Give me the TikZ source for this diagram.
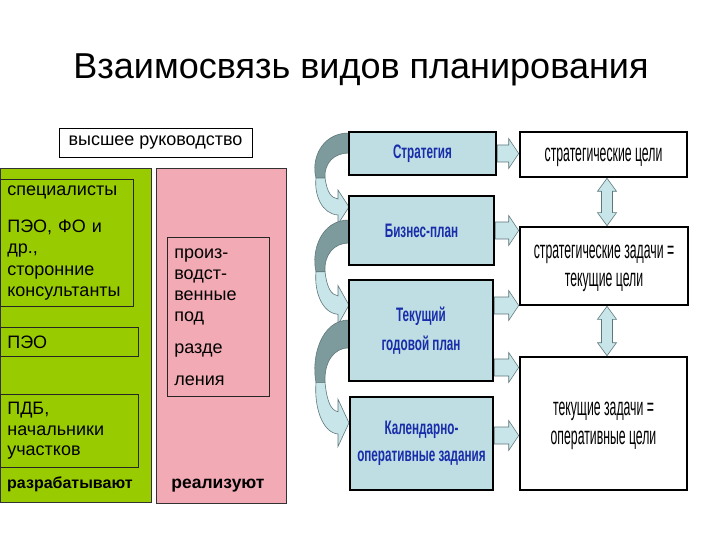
\documentclass[tikz,border=0pt]{standalone}
\usepackage{fontspec}
\setmainfont{Liberation Sans}
\newfontfamily\nbf[FakeStretch=0.6]{Liberation Sans Bold}
\newfontfamily\nrm[FakeStretch=0.49]{Liberation Sans}
\usetikzlibrary{calc}
\definecolor{grn}{RGB}{153,204,0}
\definecolor{pnk}{RGB}{242,170,180}
\definecolor{lblue}{RGB}{190,222,228}
\definecolor{afill}{RGB}{200,229,234}
\definecolor{aline}{RGB}{95,120,122}
\definecolor{adark}{RGB}{125,155,156}
\definecolor{tblue}{RGB}{25,45,170}
\tikzset{
  every node/.style={inner sep=0pt},
  panel/.style={draw=black!80, line width=0.8pt, rectangle, anchor=north west},
  ibox/.style={draw=black!85, line width=0.7pt, rectangle, anchor=north west, align=left,
    inner xsep=7pt, font=\fontsize{18}{21.5}\selectfont},
  bbox/.style={draw=black, line width=2.6pt, fill=lblue, rectangle,
    font=\nbf\fontsize{19.5}{29}\selectfont, text=tblue, align=center},
  wbox/.style={draw=black, line width=2.6pt, fill=white, rectangle, text depth=0pt,
    font=\nrm\fontsize{25}{28.5}\selectfont, align=center},
  blockarr/.style={fill=afill, draw=aline, line width=0.6pt, line join=miter},
  curvdark/.style={fill=adark, draw=aline, line width=0.6pt},
  curvlight/.style={fill=afill, draw=aline, line width=0.6pt}
}
\newcommand\harr[2]{%
  \draw[blockarr] let \p1=#1, \p2=#2 in
    (\x1,\y1+8.5pt) -- (\x2-10pt,\y1+8.5pt) -- (\x2-10pt,\y1+15pt) -- (\x2,\y1)
    -- (\x2-10pt,\y1-15pt) -- (\x2-10pt,\y1-8.5pt) -- (\x1,\y1-8.5pt) -- cycle;}
\newcommand\varr[2]{%
  \draw[blockarr] let \p1=#1, \p2=#2 in
    (\x1,\y1) -- (\x1+9.5pt,\y1-13pt) -- (\x1+5.5pt,\y1-13pt) -- (\x1+5.5pt,\y2+13pt)
    -- (\x1+9.5pt,\y2+13pt) -- (\x1,\y2) -- (\x1-9.5pt,\y2+13pt) -- (\x1-5.5pt,\y2+13pt)
    -- (\x1-5.5pt,\y1-13pt) -- (\x1-9.5pt,\y1-13pt) -- cycle;}
\newcommand\curvarr{%
  \draw[curvdark] (0,0) .. controls (-28,0) and (-38,27) .. (-33,45) -- (-24,45)
    .. controls (-25,30) and (-15,20) .. (0,20) -- cycle;
  \draw[curvlight] (-24,45) .. controls (-22,59) and (-18,65) .. (-11,66) -- (-11,57)
    -- (0,74) -- (-11,91) -- (-11,82) .. controls (-27,81) and (-35,62) .. (-33,45) -- cycle;}
\begin{document}
\begin{tikzpicture}[x=1pt,y=-1pt]
\fill[white] (0,0) rectangle (720,540);
\useasboundingbox (0,0) rectangle (720,540);

\node[font=\fontsize{36}{40}\selectfont] (title) at (361,70) {Взаимосвязь видов планирования};

% left part
\node[draw=black, line width=0.7pt, fill=white, minimum width=193pt, minimum height=29pt,
  font=\fontsize{18}{21}\selectfont] (top) at (155.5,142.5) {высшее руководство};
\node[panel, fill=grn, minimum width=151pt, minimum height=334pt] (green) at (0,168) {};
\node[panel, fill=pnk, minimum width=130pt, minimum height=335pt] (pink) at (156,168) {};

\node[ibox, minimum width=133pt, minimum height=127pt, text width=119pt] (spec) at (0,179)
  {специалисты\\[15.5pt]ПЭО, ФО и\\др.,\\сторонние\\консультанты};
\node[ibox, minimum width=138pt, minimum height=29pt, text width=124pt] (peo) at (0,327) {ПЭО};
\node[ibox, minimum width=138pt, minimum height=73pt, text width=124pt, font=\fontsize{18}{20.5}\selectfont]
  (pdb) at (0,394) {ПДБ,\\начальники\\участков};
\node[font=\bfseries\fontsize{16}{18}\selectfont, anchor=west] (razr) at (7,484) {разрабатывают};

\node[ibox, minimum width=102pt, minimum height=159pt, text width=88pt, font=\fontsize{18}{21}\selectfont]
  (proizv) at (167,237) {произ-\\водст-\\венные\\под\\[11pt]разде\\[11pt]ления};
\node[font=\bfseries\fontsize{17.5}{20}\selectfont] (real) at (218,486) {реализуют};

% curved arrows (behind boxes)
\begin{scope}[shift={(349,133)}] \curvarr \end{scope}
\begin{scope}[shift={(349,220)}, yscale=1.15] \curvarr \end{scope}
\begin{scope}[shift={(349,320)}, yscale=1.39] \curvarr \end{scope}

% right part
\node[bbox, minimum width=147pt, minimum height=43pt] (strat) at (422.5,153.5) {Стратегия};
\node[bbox, minimum width=145pt, minimum height=69pt] (biz) at (421.5,230.5) {Бизнес-план};
\node[bbox, minimum width=144pt, minimum height=101pt] (tek) at (421,330.5) {Текущий\\годовой план};
\node[bbox, minimum width=143pt, minimum height=93pt, font=\nbf\fontsize{19.5}{27}\selectfont] (kal) at (421.5,443.5) {Календарно-\\оперативные задания};

\node[wbox, minimum width=167pt, minimum height=45pt] (sgoal) at (603.5,154.5) {стратегические цели};
\node[wbox, minimum width=168pt, minimum height=78pt] (stask) at (604,266) {стратегические задачи =\\текущие цели};
\node[wbox, minimum width=167pt, minimum height=133pt] (ctask) at (603.5,423.5) {текущие задачи =\\оперативные цели};

\harr{(strat.east)}{(sgoal.west)}
\harr{(biz.east)}{(stask.west)}
\harr{($(tek.east)+(0,-25)$)}{(stask.west)}
\harr{($(tek.east)+(0,37)$)}{(ctask.west)}
\harr{($(kal.east)+(0,-8)$)}{(ctask.west)}

\varr{($(sgoal.south)+(3.5,0)$)}{(stask.north)}
\varr{($(stask.south)+(3,0)$)}{(ctask.north)}
\end{tikzpicture}
\end{document}
